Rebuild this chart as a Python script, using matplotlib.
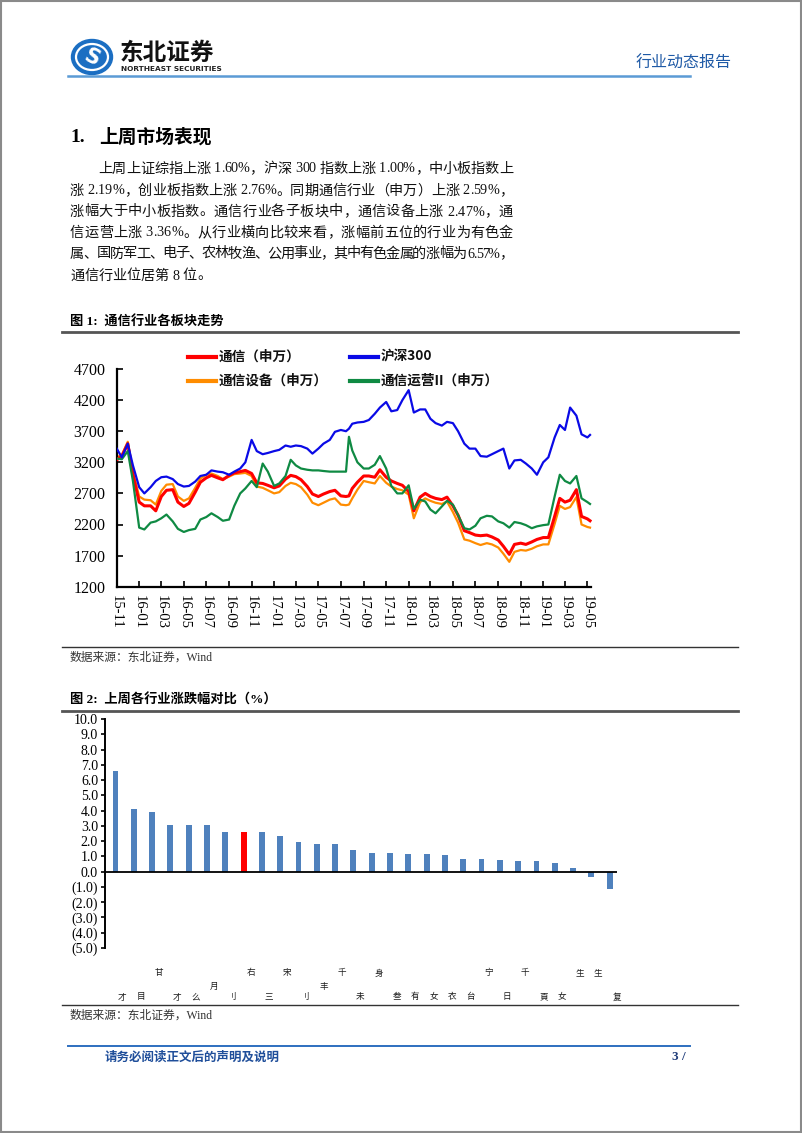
import matplotlib
matplotlib.use("Agg")
import matplotlib.pyplot as plt
import matplotlib.dates as mdates
import matplotlib.patches as mpatches
from matplotlib.lines import Line2D
from matplotlib import transforms
import pandas as pd

# ---------------- data ----------------
# sampling dates (1st / 16th of each month, plus a few extra points)
dates = list(pd.date_range("2015-11-01", "2019-05-01", freq="SMS"))
dates.insert(dates.index(pd.Timestamp("2017-07-15")) + 1, pd.Timestamp("2017-07-23"))
dates.append(pd.Timestamp("2019-05-08"))

hs300 = [3420, 3280, 3500, 3150, 2800, 2700, 2800, 2900, 2960, 2970,
         2930, 2850, 2810, 2820, 2890, 2980, 3000, 3070, 3050, 3040,
         3000, 3050, 3100, 3200, 3560, 3380, 3330, 3350, 3380, 3400,
         3470, 3450, 3470, 3460, 3420, 3340, 3420, 3500, 3560, 3690,
         3720, 3700, 3740,
         3820, 3840, 3850, 3880, 3980, 4080, 4170, 4020, 4040, 4200,
         4360, 4000, 4050, 4050, 3900, 3830, 3790, 3850, 3830, 3700,
         3500, 3420, 3420, 3300, 3290, 3330, 3380, 3420, 3100, 3230,
         3240, 3180, 3100, 3000, 3200, 3280, 3600, 3800, 3720, 4080,
         3950, 3650, 3600, 3640]

tongxin = [3240, 3300, 3500, 3000, 2560, 2500, 2500, 2420, 2650, 2750,
           2760, 2560, 2490, 2540, 2720, 2880, 2950, 2990, 2950, 2920,
           2990, 3030, 3050, 3070, 3020, 2870, 2860, 2830, 2790, 2820,
           2930, 2990, 2970, 2920, 2810, 2690, 2650, 2690, 2730, 2750,
           2660, 2650, 2660,
           2780, 2880, 2980, 2980, 2960, 3080, 2960, 2900, 2860, 2830,
           2730, 2420, 2640, 2700, 2650, 2620, 2600, 2640, 2500, 2350,
           2100, 2070, 2030, 2020, 2030, 2000, 1950, 1850, 1720, 1880,
           1900, 1880, 1920, 1960, 1990, 1990, 2330, 2620, 2560, 2590,
           2760, 2330, 2290, 2260]

shebei = [3280, 3320, 3530, 3050, 2650, 2600, 2590, 2520, 2740, 2840,
          2850, 2650, 2580, 2620, 2790, 2940, 3000, 3020, 2980, 2930,
          2970, 3010, 3020, 3030, 2980, 2810, 2790, 2750, 2700, 2720,
          2820, 2870, 2850, 2800, 2680, 2550, 2510, 2550, 2600, 2620,
          2520, 2510, 2520,
          2620, 2760, 2900, 2880, 2860, 2980, 2870, 2810, 2770, 2750,
          2680, 2300, 2560, 2620, 2580, 2550, 2530, 2570, 2400, 2230,
          1960, 1940, 1900, 1870, 1900, 1880, 1830, 1730, 1600, 1760,
          1790, 1780, 1810, 1850, 1880, 1880, 2210, 2500, 2450, 2480,
          2640, 2200, 2160, 2150]

yunying = [3260, 3250, 3380, 2900, 2150, 2120, 2230, 2250, 2300, 2360,
           2250, 2130, 2080, 2110, 2130, 2280, 2320, 2380, 2320, 2260,
           2280, 2500, 2700, 2780, 2900, 2800, 3180, 3050, 2820, 2860,
           2980, 3240, 3150, 3100, 3080, 3070, 3070, 3060, 3050, 3050,
           3050, 3050, 3610,
           3390, 3200, 3100, 3100, 3160, 3300, 3100, 2820, 2700, 2700,
           2830, 2450, 2600, 2570, 2440, 2380, 2490, 2580, 2520, 2350,
           2140, 2120, 2180, 2300, 2340, 2330, 2250, 2220, 2150, 2240,
           2220, 2190, 2140, 2170, 2190, 2200, 2650, 3000, 2900, 2860,
           2980, 2620, 2560, 2530]

series_names = ["通信（申万）", "沪深300", "通信设备（申万）", "通信运营II（申万）"]
series_colors = ["#ff0000", "#0a0ae6", "#ff8c00", "#0f8a43"]

# weekly change of the 28 industries (%), 通信 is the 8th
industry_change = [6.57, 4.13, 3.89, 3.03, 3.03, 3.03, 2.60, 2.59, 2.57, 2.34,
                   1.94, 1.81, 1.81, 1.42, 1.24, 1.24, 1.18, 1.16, 1.11, 0.85,
                   0.81, 0.74, 0.70, 0.68, 0.59, 0.22, -0.37, -1.16]
highlight_idx = 7
# clipped label fragments as they appear under the bars, and their row
label_marks = ["才", "目", "甘", "才", "么", "月", "刂", "右", "三", "宋",
               "刂", "丰", "千", "未", "身", "叁", "有", "女", "衣", "台",
               "宁", "日", "千", "頁", "女", "生", "生", "复"]
label_rows = [0, 0, 2, 0, 0, 1, 0, 2, 0, 2,
              0, 1, 2, 0, 2, 0, 0, 0, 0, 0,
              2, 0, 2, 0, 0, 2, 2, 0]

paragraph = [
    "上周上证综指上涨 1.60%，沪深 300 指数上涨 1.00%，中小板指数上",
    "涨 2.19%，创业板指数上涨 2.76%。同期通信行业（申万）上涨 2.59%，",
    "涨幅大于中小板指数。通信行业各子板块中，通信设备上涨 2.47%，通",
    "信运营上涨 3.36%。从行业横向比较来看，涨幅前五位的行业为有色金",
    "属、国防军工、电子、农林牧渔、公用事业，其中有色金属的涨幅为 6.57%，",
    "通信行业位居第 8 位。",
]

# ---------------- page ----------------
W, H = 802, 1133
CJK = "Noto Sans CJK SC"
MIX = ["Liberation Serif", CJK]
plt.rcParams["font.family"] = [CJK, "DejaVu Sans"]

fig = plt.figure(figsize=(W / 100, H / 100), dpi=100)
renderer = fig.canvas.get_renderer()


def fx(x):
    return x / W


def fy(y):
    return 1 - y / H


def hline(y, x0, x1, color, lw):
    fig.add_artist(Line2D([fx(x0), fx(x1)], [fy(y), fy(y)], color=color, lw=lw))


_width_cache = {}


def char_width(ch, size):
    if ch not in _width_cache:
        t = fig.text(0, 0, "国" + ch + "国", fontsize=size, family=MIX)
        w3 = t.get_window_extent(renderer).width
        t.set_text("国国")
        w2 = t.get_window_extent(renderer).width
        t.remove()
        _width_cache[ch] = w3 - w2
    return _width_cache[ch]


def justified_line(line, x0, x1, y, size, justify=True):
    widths = [char_width(c, size) for c in line]
    extra = (x1 - x0 - sum(widths)) / (len(line) - 1) if justify else 0
    x = x0
    for c, w in zip(line, widths):
        if c != " ":
            fig.text(fx(x), fy(y), c, fontsize=size, family=MIX, ha="left",
                     va="center", color="#111111")
        x += w + extra


# page frame
fig.add_artist(mpatches.Rectangle((0.001, 0.001), 0.998, 0.998, fill=False,
                                  edgecolor="#8a8a8a", lw=1.5))

# header / logo
fig.add_artist(mpatches.Ellipse((fx(92), fy(57)), 41 / W, 35 / H, color="#1b6ec2"))
fig.add_artist(mpatches.Ellipse((fx(92), fy(57)), 32 / W, 26 / H, fill=False,
                                edgecolor="white", lw=1.6))
fig.text(fx(92), fy(58), "S", color="white", fontsize=15, fontweight="bold",
         ha="center", va="center", rotation=-25, family="DejaVu Sans")
fig.text(fx(120), fy(53), "东北证券", fontsize=17, fontweight="bold", color="#111111",
         ha="left", va="center")
fig.text(fx(121), fy(69), "NORTHEAST SECURITIES", fontsize=5.3, fontweight="bold",
         color="#222222", ha="left", va="center", family="DejaVu Sans")
fig.text(fx(732), fy(63), "行业动态报告", fontsize=11.5, color="#1f5aa6",
         ha="right", va="center")
hline(76, 68, 690, "#5b9bd5", 1.8)

# section title + paragraph
fig.text(fx(70), fy(137), "1.", fontsize=14, fontweight="bold", family=MIX,
         ha="left", va="center")
fig.text(fx(99), fy(137), "上周市场表现", fontsize=13.5, fontweight="bold",
         ha="left", va="center")
para_y = [169, 191, 212, 233, 254, 276]
for i, (line, y) in enumerate(zip(paragraph, para_y)):
    x0 = 98 if i == 0 else 70
    justified_line(line, x0, 513, y, 10.2, justify=i < len(paragraph) - 1)

# ---------------- figure 1 ----------------
fig.text(fx(70), fy(322), "图 1:  通信行业各板块走势", fontsize=9.5,
         fontweight="bold", family=MIX, ha="left", va="center")
hline(332, 62, 738, "#555555", 2.0)

ax1 = fig.add_axes([fx(116.7), fy(586.7), (591.5 - 116.7) / W, (586.7 - 369) / H])
ax1.plot(dates, shebei, color=series_colors[2], lw=1.6, zorder=2)
ax1.plot(dates, tongxin, color=series_colors[0], lw=2.2, zorder=3)
ax1.plot(dates, yunying, color=series_colors[3], lw=1.6, zorder=4)
ax1.plot(dates, hs300, color=series_colors[1], lw=1.6, zorder=5)
ax1.set_xlim(pd.Timestamp("2015-11-01"), pd.Timestamp("2019-05-12"))
ax1.set_ylim(1200, 4700)
ax1.set_yticks(range(1200, 4701, 500))
ax1.xaxis.set_major_locator(mdates.MonthLocator(bymonth=[1, 3, 5, 7, 9, 11]))
ax1.xaxis.set_major_formatter(mdates.DateFormatter("%y-%m"))
ax1.tick_params(direction="in", length=4, width=1.2, colors="black")
ax1.tick_params(axis="y", labelsize=11.5, pad=8)
ax1.tick_params(axis="x", labelsize=10.5, pad=6)
for lab in ax1.get_yticklabels():
    lab.set_family("Liberation Serif")
for lab in ax1.get_xticklabels():
    lab.set_family("Liberation Serif")
    lab.set_rotation(270)
    lab.set_ha("center")
    lab.set_va("top")
for s in ["top", "right"]:
    ax1.spines[s].set_visible(False)
for s in ["left", "bottom"]:
    ax1.spines[s].set_linewidth(1.6)

# legend, two columns above the plot
leg_pos = [(188, 357), (350, 357), (188, 381), (350, 381)]
for name, color, (lx, ly) in zip(series_names, series_colors, leg_pos):
    fig.add_artist(Line2D([fx(lx), fx(lx + 28)], [fy(ly), fy(ly)], color=color, lw=3))
    fig.text(fx(lx + 31), fy(ly), name, fontsize=9.8, fontweight="bold",
             ha="left", va="center", color="#111111")

hline(647, 62, 738, "#333333", 1.0)
fig.text(fx(70), fy(658), "数据来源：东北证券，Wind", fontsize=8.5, family=MIX,
         color="#333333", ha="left", va="center")

# ---------------- figure 2 ----------------
fig.text(fx(70), fy(700), "图 2:  上周各行业涨跌幅对比（%）", fontsize=9.5,
         fontweight="bold", family=MIX, ha="left", va="center")
hline(711, 62, 738, "#555555", 2.0)

ax2 = fig.add_axes([fx(105), fy(948), (617 - 105) / W, (948 - 719) / H])
xs = list(range(len(industry_change)))
colors = ["#ff0000" if i == highlight_idx else "#4f81bd" for i in xs]
ax2.bar(xs, industry_change, width=0.32, color=colors, zorder=2)
ax2.axhline(0, color="black", lw=1.3, zorder=3)
ax2.set_xlim(-0.57, 27.4)
ax2.set_ylim(-5, 10)
yt = list(range(-5, 11))
ax2.set_yticks(yt)
ax2.set_yticklabels([f"{v:.1f}" if v >= 0 else f"({abs(v):.1f})" for v in yt],
                    family="Liberation Serif", fontsize=10)
ax2.set_xticks([])
ax2.tick_params(axis="y", direction="out", length=3, width=1.2, pad=2)
for s in ["top", "right", "bottom"]:
    ax2.spines[s].set_visible(False)
ax2.spines["left"].set_linewidth(1.4)

row_y = [997, 986, 973]
tr = transforms.blended_transform_factory(ax2.transData, fig.transFigure)
for i, (mark, row) in enumerate(zip(label_marks, label_rows)):
    ax2.text(i + 0.38, fy(row_y[row]), mark, transform=tr, fontsize=6.2,
             ha="center", va="center", color="#1a1a1a")

hline(1005, 62, 738, "#333333", 1.0)
fig.text(fx(70), fy(1016), "数据来源：东北证券，Wind", fontsize=8.5, family=MIX,
         color="#333333", ha="left", va="center")

# footer
hline(1046, 68, 690, "#2e6fbf", 1.4)
fig.text(fx(105), fy(1057), "请务必阅读正文后的声明及说明", fontsize=9,
         fontweight="bold", color="#1f4e9a", ha="left", va="center")
fig.text(fx(686), fy(1057), "3 /", fontsize=9.5, fontweight="bold", family=MIX,
         color="#1f3c7a", ha="right", va="center")

fig.savefig("out.png", dpi=100)
